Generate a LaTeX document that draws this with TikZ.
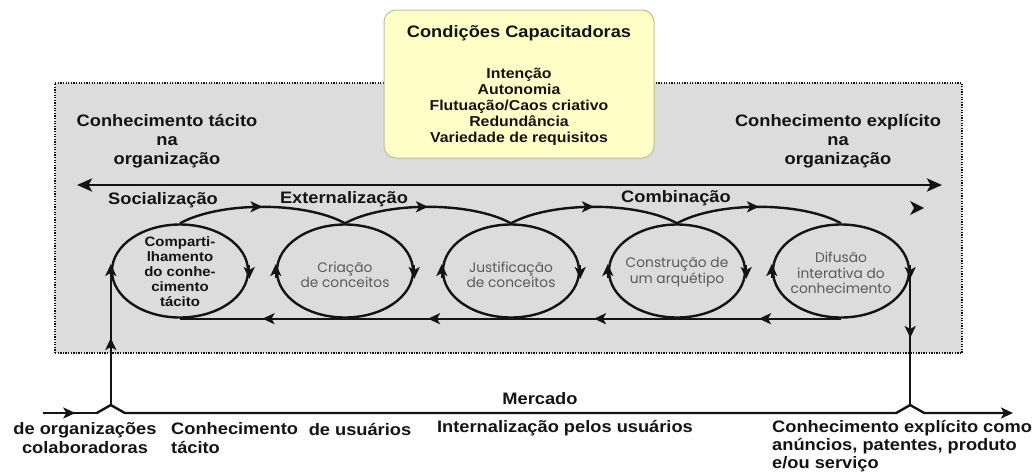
\documentclass[tikz,border=0pt]{standalone}
\usepackage{fontspec}
\setmainfont{Liberation Sans}[FakeStretch=1.1]
\newfontfamily\gothic{Poppins}
\usetikzlibrary{arrows.meta,decorations.markings,calc,shapes.geometric}
\definecolor{boxgray}{RGB}{220,220,220}
\definecolor{pale}{RGB}{255,255,200}
\definecolor{paleedge}{RGB}{190,190,160}
\definecolor{txtgray}{RGB}{90,90,90}
\definecolor{ink}{RGB}{20,20,20}
\tikzset{
  myarr/.tip={Stealth[length=12pt,width=11pt,inset=3pt]},
  bigarr/.tip={Stealth[length=15pt,width=13pt,inset=3.5pt]},
  ln/.style={line width=2.4pt, draw=ink},
  midarr/.style={postaction={decorate}, decoration={markings, mark=at position #1 with {\arrow{myarr}}}},
  elp/.style={ellipse, draw=ink, line width=2.4pt, minimum width=136, minimum height=93, inner sep=0},
  lbl/.style={font=\bfseries\fontsize{16.6}{19}\selectfont, align=center, text=ink, inner sep=0},
  lst/.style={font=\bfseries\fontsize{14.4}{16}\selectfont, align=center, text=ink, inner sep=0},
  intxt/.style={font=\bfseries\fontsize{13.6}{15}\selectfont, align=center, text=ink, inner sep=0},
  gtxt/.style={font=\gothic\fontsize{13.8}{15.5}\selectfont, align=center, text=txtgray, inner sep=0},
}
\begin{document}
\begin{tikzpicture}[x=1pt,y=-1pt]
\useasboundingbox (0,0) rectangle (1036,474);
\fill[white] (0,0) rectangle (1036,474);
% organisation area
\node[draw=ink, fill=boxgray, line width=1.8pt, dash pattern=on 1.3pt off 1.3pt,
      minimum width=907, minimum height=270, inner sep=0] (org) at (508.5,218) {};
% enabling conditions box
\node[draw=paleedge, fill=pale, line width=1pt, rounded corners=12,
      minimum width=270, minimum height=148, inner sep=0] (cc) at (519,84) {};
\node[lbl] (cct) at (519,33) {Condições Capacitadoras};
\node[lst] (ccl) at (519,107) {Intenção\\Autonomia\\Flutuação/Caos criativo\\Redundância\\Variedade de requisitos};
% side labels
\node[lbl] (tac) at (167,141) {Conhecimento tácito\\na\\organização};
\node[lbl] (exp) at (838,141) {Conhecimento explícito\\na\\organização};
\coordinate (la) at (77,185);
\coordinate (ra) at (942,185);
\draw[line width=2.8pt, draw=ink, {bigarr}-{bigarr}] (la) -- (ra);
\node[lbl] (soc) at (163,200) {Socialização};
\node[lbl] (ext) at (344,199) {Externalização};
\node[lbl] (com) at (676,198) {Combinação};
% ellipses
\node[elp] (e1) at (180,271) {};
\node[elp] (e2) at (345,271) {};
\node[elp] (e3) at (511,271) {};
\node[elp] (e4) at (677,271) {};
\node[elp] (e5) at (841,271) {};
\node[intxt] (t1) at (180,272) {Comparti-\\lhamento\\do conhe-\\cimento\\tácito};
\node[gtxt] (t2) at (345,275) {Criação\\de conceitos};
\node[gtxt] (t3) at (511,275) {Justificação\\de conceitos};
\node[gtxt] (t4) at (677,272) {Construção de\\um arquétipo};
\node[gtxt] (t5) at (841,273) {Difusão\\interativa do\\conhecimento};
\foreach \i in {1,...,5} {
  \draw[ln, -{myarr}] ($(e\i.east)+(0,-6)$) -- ($(e\i.east)+(0,8)$);
  \draw[ln, -{myarr}] ($(e\i.west)+(0,7)$) -- ($(e\i.west)+(0,-7)$);
}
\foreach \a/\b in {1/2,2/3,3/4,4/5} {
  \draw[ln, midarr=0.5] (e\a.north) .. controls +(40,-22) and +(-40,-22) .. (e\b.north);
  \draw[ln, midarr=0.5] (e\b.south) -- (e\a.south);
}
\fill[ink] (910,201) -- (924,208) -- (910,215) -- (914,208) -- cycle;
% market
\coordinate (h405) at (0,405);
\coordinate (m0) at (43,413);
\coordinate (mL) at (e1.west |- h405);
\coordinate (mR) at (e5.east |- h405);
\coordinate (m1) at (1013,413);
\draw[ln, midarr=0.6] (m0) -- ($(mL)+(-14,8)$);
\draw[ln, -{myarr}, line join=miter] ($(mL)+(-14,8)$) -- (mL) -- ($(mL)+(14,8)$) -- ($(mR)+(-14,8)$) -- (mR) -- ($(mR)+(14,8)$) -- (m1);
\draw[ln, midarr=0.5] (mL) -- (e1.west);
\draw[ln, midarr=0.5] (e5.east) -- (mR);
\node[lbl] (mer) at (540,399) {Mercado};
\node[lbl] (org1) at (85,438) {de organizações\\colaboradoras};
\node[lbl, align=left, anchor=west] (ctac) at (171,438) {Conhecimento\\tácito};
\node[lbl] (dus) at (360,429) {de usuários};
\node[lbl] (intz) at (565,428) {Internalização pelos usuários};
\node[lbl, align=left, anchor=west, font=\bfseries\fontsize{16.6}{18}\selectfont] (cexp) at (772,446) {Conhecimento explícito como\\anúncios, patentes, produto\\e/ou serviço};
\end{tikzpicture}
\end{document}
